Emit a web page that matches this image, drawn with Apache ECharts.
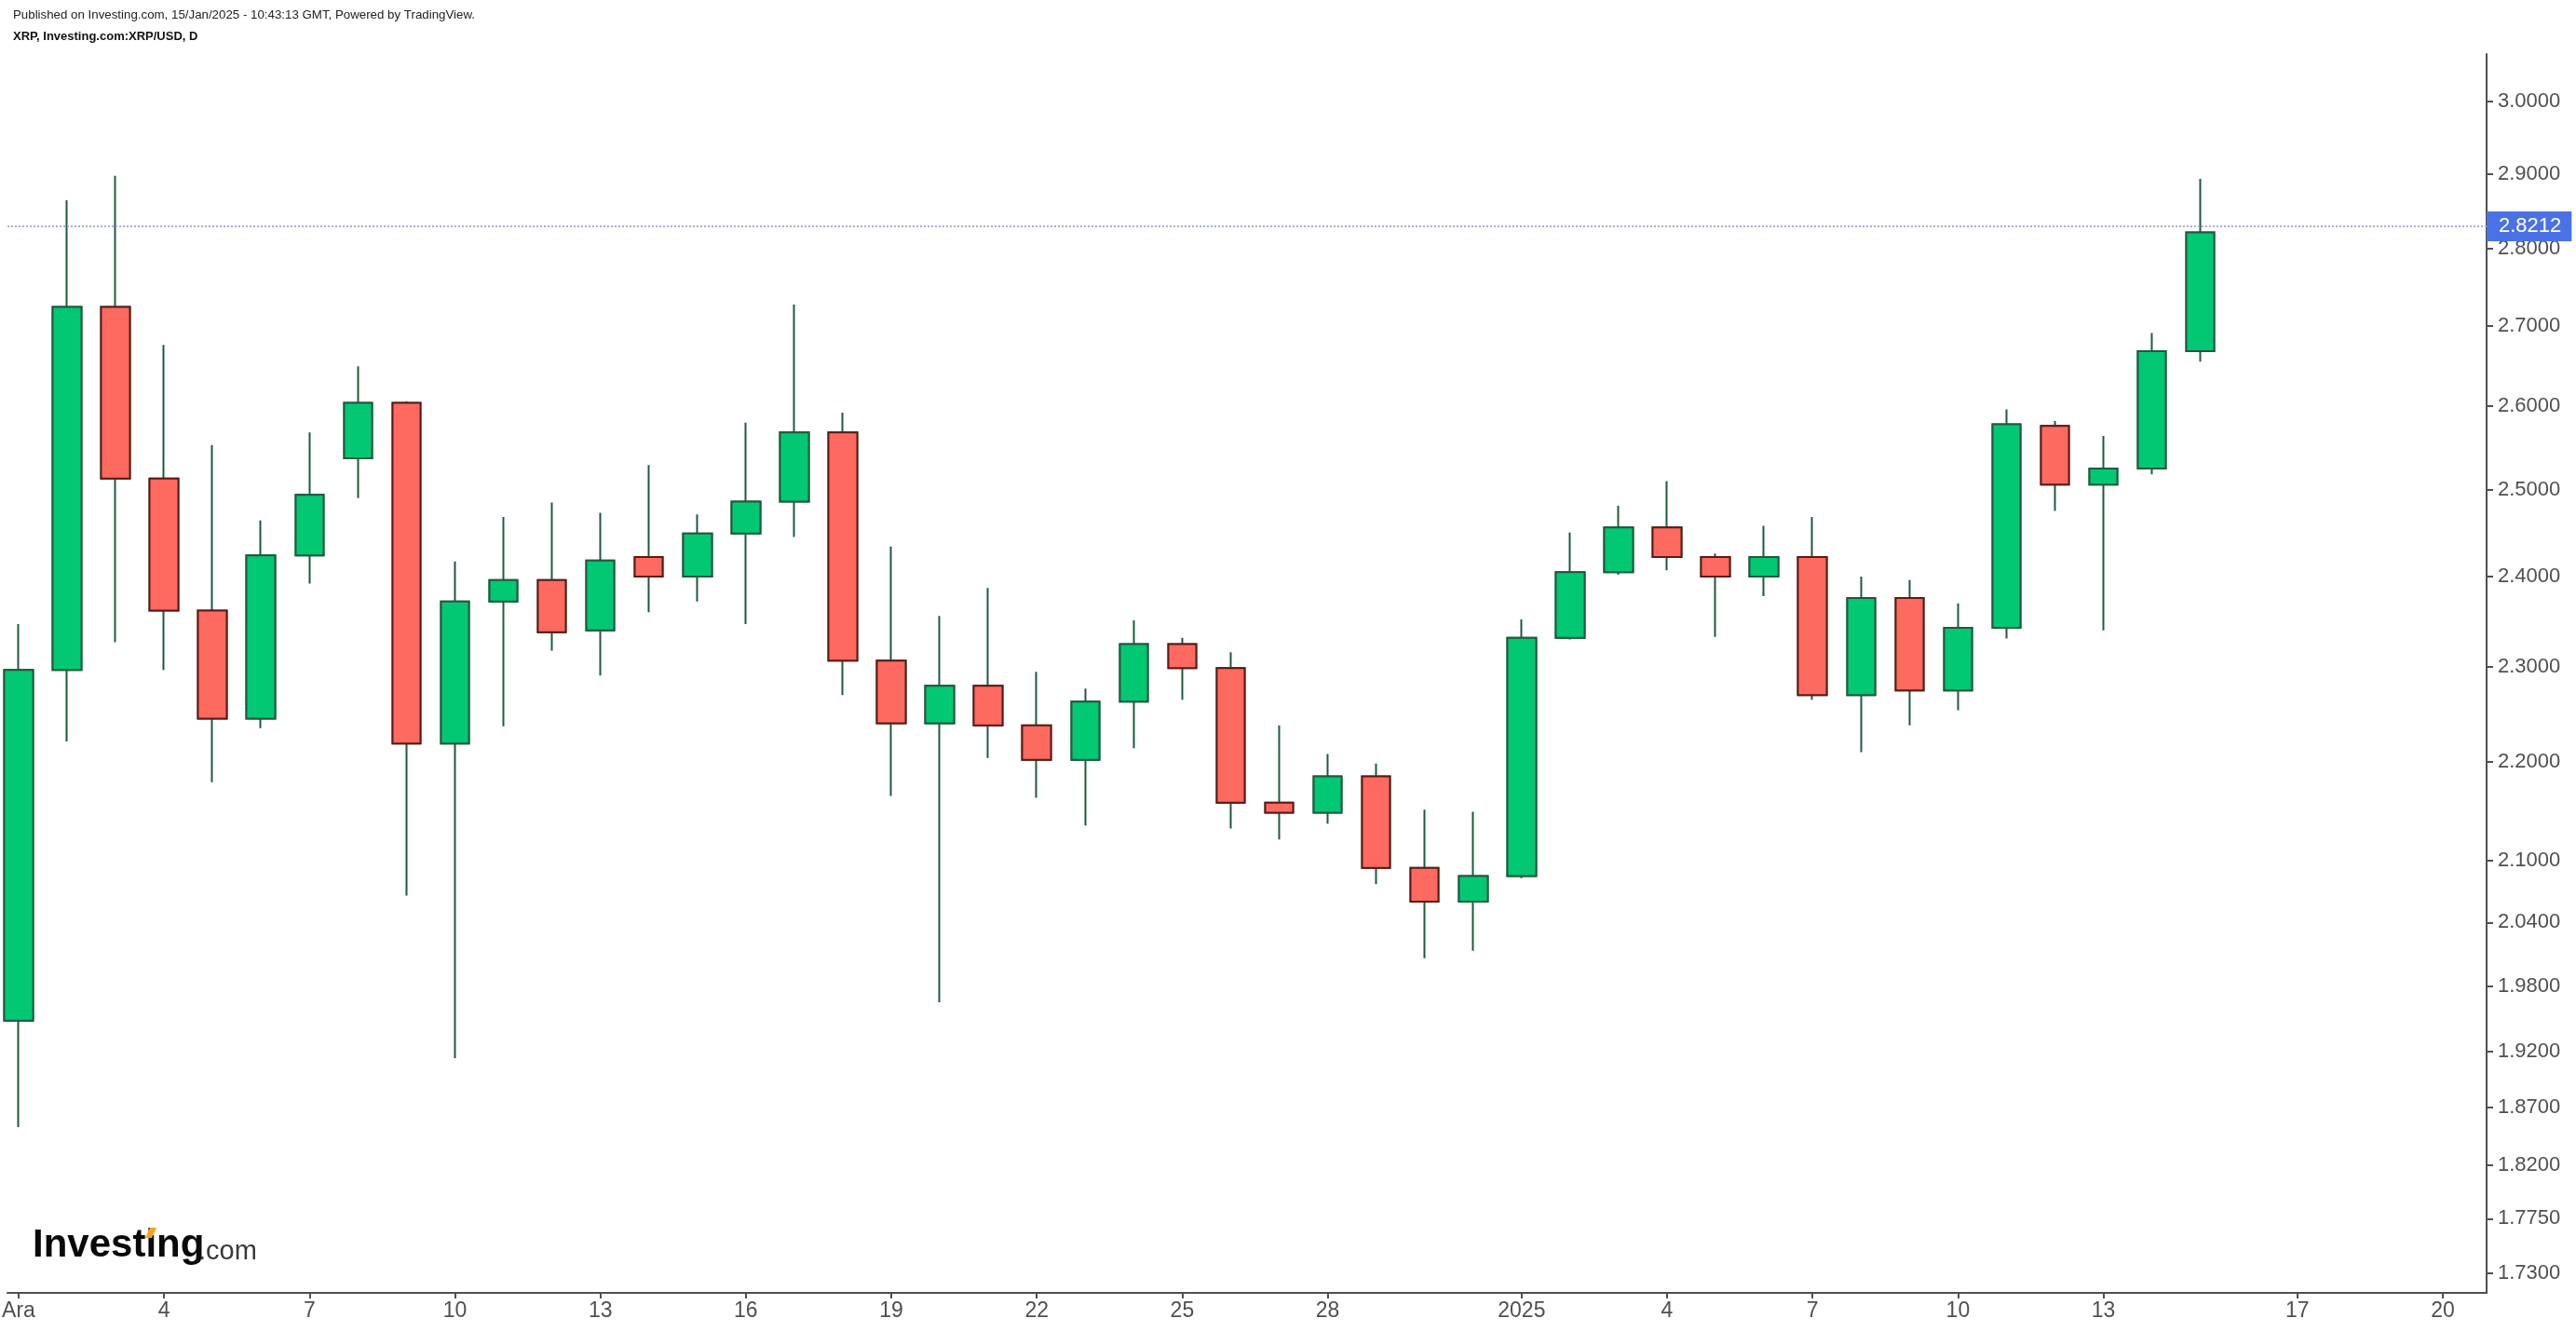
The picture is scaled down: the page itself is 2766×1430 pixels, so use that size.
<!DOCTYPE html>
<html>
<head>
<meta charset="utf-8">
<script src="https://cdn.jsdelivr.net/npm/echarts@6/dist/echarts.min.js"></script>
<style>
html,body{margin:0;padding:0;background:#fff;}
#chart{width:2766px;height:1430px;}
</style>
</head>
<body>
<div id="chart"></div>
<script>
// ---- data ----
const dates = ['2024-12-01','2024-12-02','2024-12-03','2024-12-04','2024-12-05','2024-12-06','2024-12-07','2024-12-08','2024-12-09','2024-12-10',
  '2024-12-11','2024-12-12','2024-12-13','2024-12-14','2024-12-15','2024-12-16','2024-12-17','2024-12-18','2024-12-19','2024-12-20',
  '2024-12-21','2024-12-22','2024-12-23','2024-12-24','2024-12-25','2024-12-26','2024-12-27','2024-12-28','2024-12-29','2024-12-30',
  '2024-12-31','2025-01-01','2025-01-02','2025-01-03','2025-01-04','2025-01-05','2025-01-06','2025-01-07','2025-01-08','2025-01-09',
  '2025-01-10','2025-01-11','2025-01-12','2025-01-13','2025-01-14','2025-01-15'];
const open  = [1.948,2.297,2.724,2.513,2.362,2.245,2.424,2.537,2.604,2.219,
               2.372,2.396,2.340,2.422,2.400,2.449,2.486,2.568,2.307,2.240,
               2.280,2.238,2.202,2.263,2.325,2.299,2.158,2.148,2.185,2.093,
               2.060,2.085,2.332,2.405,2.456,2.422,2.400,2.422,2.270,2.376,
               2.275,2.343,2.576,2.506,2.525,2.668];
const high  = [2.347,2.864,2.897,2.676,2.553,2.464,2.568,2.649,2.606,2.417,
               2.468,2.485,2.473,2.529,2.471,2.580,2.727,2.592,2.434,2.356,
               2.387,2.295,2.277,2.351,2.332,2.316,2.238,2.208,2.198,2.151,
               2.149,2.352,2.450,2.481,2.510,2.426,2.458,2.468,2.400,2.396,
               2.370,2.596,2.582,2.564,2.691,2.893];
const low   = [1.853,2.221,2.327,2.297,2.179,2.235,2.392,2.490,2.066,1.914,
               2.237,2.318,2.291,2.360,2.372,2.347,2.445,2.270,2.165,1.965,
               2.204,2.163,2.135,2.214,2.265,2.132,2.121,2.137,2.077,2.006,
               2.013,2.083,2.330,2.402,2.407,2.333,2.378,2.265,2.210,2.238,
               2.254,2.331,2.475,2.340,2.518,2.655];
const close = [2.297,2.724,2.513,2.362,2.245,2.424,2.494,2.604,2.219,2.372,
               2.396,2.338,2.418,2.400,2.449,2.486,2.568,2.307,2.240,2.280,
               2.238,2.202,2.263,2.325,2.299,2.158,2.148,2.185,2.093,2.060,
               2.085,2.332,2.405,2.456,2.422,2.400,2.422,2.270,2.376,2.275,
               2.343,2.578,2.506,2.525,2.668,2.8212];
const xTickDates  = ['2024-12-01','2024-12-04','2024-12-07','2024-12-10','2024-12-13','2024-12-16','2024-12-19','2024-12-22','2024-12-25','2024-12-28',
                     '2025-01-01','2025-01-04','2025-01-07','2025-01-10','2025-01-13','2025-01-17','2025-01-20'];
const xTickLabels = ['Ara','4','7','10','13','16','19','22','25','28','2025','4','7','10','13','17','20'];
const yTickValues = [3.0,2.9,2.8,2.7,2.6,2.5,2.4,2.3,2.2,2.1,2.04,1.98,1.92,1.87,1.82,1.775,1.73];
const yTickLabels = ['3.0000','2.9000','2.8000','2.7000','2.6000','2.5000','2.4000','2.3000','2.2000','2.1000','2.0400','1.9800','1.9200','1.8700','1.8200','1.7750','1.7300'];
const xRange = ['2024-11-30T18:30', '2025-01-20T21:40'];
const yRange = [1.7142, 3.0677];

// ---- helpers ----
const DAY = 86400000;
const T0 = Date.parse('2024-12-01T00:00Z');
const dayIdx = s => (Date.parse(s.length > 10 ? s + 'Z' : s + 'T00:00Z') - T0) / DAY;
const ln = Math.log;
const lastClose = close[close.length - 1];

const FONT = "'Liberation Sans', Arial, Helvetica, sans-serif";
const NARROW = "'Liberation Sans Narrow', 'Arial Narrow', 'Liberation Sans', Arial, sans-serif";
const UP = '#02c874', DOWN = '#ff6a60', WICK = '#1f5a3c', UPB = '#1f5a3c', DOWNB = '#5c1a14';
const AXIS = '#505050', LABEL = '#505050';

const wickData = dates.map((d, i) => [dayIdx(d), ln(open[i]), ln(close[i]), ln(low[i]), ln(high[i])]);
const bodyData = dates.map((d, i) => [dayIdx(d), ln(open[i]), ln(close[i]),
  ln(Math.min(open[i], close[i])), ln(Math.max(open[i], close[i]))]);

const xTickPos = xTickDates.map(dayIdx);
const yTickPos = yTickValues.map(ln);
const nearest = (arr, v) => { let b = 0; arr.forEach((a, i) => { if (Math.abs(a - v) < Math.abs(arr[b] - v)) b = i; }); return b; };

const chart = echarts.init(document.getElementById('chart'), null, {renderer: 'canvas'});
chart.setOption({
  animation: false,
  backgroundColor: '#ffffff',
  grid: {left: 8, right: 96, top: 58, bottom: 42, containLabel: false, outerBoundsMode: 'none'},
  xAxis: {
    type: 'value',
    min: dayIdx(xRange[0]), max: dayIdx(xRange[1]),
    axisLine: {show: true, onZero: false, lineStyle: {color: AXIS, width: 2}},
    axisTick: {show: true, length: 6, lineStyle: {color: AXIS, width: 2}, customValues: xTickPos},
    axisLabel: {show: true, customValues: xTickPos, margin: 8, color: LABEL, fontSize: 23, fontFamily: NARROW,
      formatter: v => xTickLabels[nearest(xTickPos, v)]},
    splitLine: {show: false}
  },
  yAxis: {
    type: 'value', position: 'right', scale: true,
    min: ln(yRange[0]), max: ln(yRange[1]),
    axisLine: {show: true, onZero: false, lineStyle: {color: AXIS, width: 2}},
    axisTick: {show: true, length: 7, lineStyle: {color: AXIS, width: 2}, customValues: yTickPos},
    axisLabel: {show: true, customValues: yTickPos, margin: 12, color: LABEL, fontSize: 22, fontFamily: FONT,
      formatter: v => yTickLabels[nearest(yTickPos, v)]},
    splitLine: {show: false}
  },
  series: [
    {
      type: 'candlestick', name: 'wick', barWidth: 31, clip: true, silent: true,
      emphasis: {disabled: true},
      itemStyle: {color: UP, color0: DOWN, borderColor: WICK, borderColor0: WICK, borderWidth: 2},
      data: wickData
    },
    {
      type: 'candlestick', name: 'XRP/USD', barWidth: 31, clip: true, silent: true,
      emphasis: {disabled: true},
      itemStyle: {color: UP, color0: DOWN, borderColor: UPB, borderColor0: DOWNB, borderWidth: 2},
      data: bodyData,
      markLine: {
        silent: true, symbol: ['none', 'none'], animation: false,
        lineStyle: {color: '#9fb0ee', width: 2, type: [2, 2]},
        label: {show: true, position: 'end', distance: 0, formatter: lastClose.toFixed(4),
          color: '#ffffff', backgroundColor: '#4a72e6', fontSize: 22, fontFamily: FONT,
          lineHeight: 21, padding: [6, 11, 5, 13]},
        data: [{yAxis: ln(lastClose)}]
      }
    }
  ],
  graphic: [
    {type: 'text', left: 14, top: 10, style: {text: 'Published on Investing.com, 15/Jan/2025 - 10:43:13 GMT, Powered by TradingView.',
      font: "13.3px " + FONT, fill: '#222'}},
    {type: 'text', left: 14, top: 33, style: {text: 'XRP, Investing.com:XRP/USD, D',
      font: "bold 13px " + FONT, fill: '#111'}},
    {type: 'text', left: 35, top: 1316, style: {text: 'Investing', font: "bold 42px " + FONT, fill: '#0a0a0a'}},
    {type: 'text', left: 213, top: 1329, style: {text: '.com', font: "29px " + FONT, fill: '#3a3a3a'}},
    {type: 'polygon', shape: {points: [[156, 1329], [161, 1318], [168, 1318], [163, 1329]]}, style: {fill: '#f7a21b'}}
  ]
});
</script>
</body>
</html>
